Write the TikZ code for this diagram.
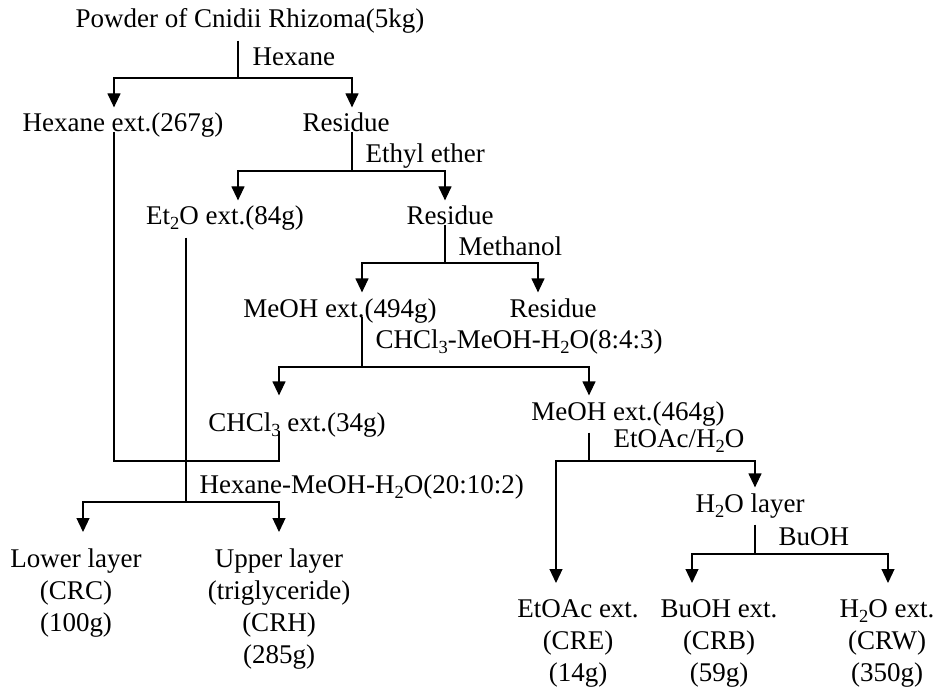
\documentclass[tikz,border=0pt]{standalone}
\usepackage{fontspec}
\setmainfont{Liberation Serif}
\usetikzlibrary{arrows.meta}
\newcommand{\chemsub}[1]{\raisebox{-5pt}{\fontsize{18.5}{18.5}\selectfont #1}}

\begin{document}
\begin{tikzpicture}[
            x = 1pt, y = -1pt, % pixel grid, y going down
            > = {Triangle[width=13pt, length=14pt]}, % arrow head style
            line width = 1.2pt,
            every node/.style = {font=\fontsize{27}{32}\selectfont},
            item/.style = {anchor=base, inner xsep=0pt, inner ysep=6pt, text height=18pt, text depth=6pt},
            faritem/.style = {item, inner ysep=17pt},
            leaf/.style = {anchor=north, align=center, inner xsep=0pt, inner ysep=16.5pt},
            solvent/.style = {anchor=base west, inner sep=0pt}
        ]

        \useasboundingbox (0,0) rectangle (938,690);

        % fractions
        \node[item] (powder) at (250,28) {Powder of Cnidii Rhizoma(5kg)};
        \node[item] (hexext) at (123,132) {Hexane ext.(267g)};
        \node[item] (res1) at (346,132) {Residue};
        \node[item] (et2oext) at (225,225) {Et\chemsub{2}O ext.(84g)};
        \node[item] (res2) at (450,225) {Residue};
        \node[item] (meohext) at (340,317) {MeOH ext.(494g)};
        \node[item] (res3) at (553,317) {Residue};
        \node[faritem] (chclext) at (297,431) {CHCl\chemsub{3} ext.(34g)};
        \node[item] (meohext2) at (628,420) {MeOH ext.(464g)};
        \node[item] (h2olayer) at (750,512) {H\chemsub{2}O layer};
        \node[leaf] (lower) at (76,532) {Lower layer \\ (CRC) \\ (100g)};
        \node[leaf] (upper) at (279,532) {Upper layer \\ (triglyceride) \\ (CRH) \\ (285g)};
        \node[leaf] (etoacext) at (578,583) {EtOAc ext. \\ (CRE) \\ (14g)};
        \node[leaf] (buohext) at (719,583) {BuOH ext. \\ (CRB) \\ (59g)};
        \node[leaf] (h2oext) at (887,583) {H\chemsub{2}O ext. \\ (CRW) \\ (350g)};

        % solvents
        \node[solvent] (hexane) at (252,66) {Hexane};
        \node[solvent] (ether) at (365,163) {Ethyl ether};
        \node[solvent] (methanol) at (458,255) {Methanol};
        \node[solvent] (chcl) at (375,348) {CHCl\chemsub{3}-MeOH-H\chemsub{2}O(8:4:3)};
        \node[solvent] (etoac) at (613,447) {EtOAc/H\chemsub{2}O};
        \node[solvent] (hexmix) at (199,493) {Hexane-MeOH-H\chemsub{2}O(20:10:2)};
        \node[solvent] (buoh) at (778,545) {BuOH};

        % split points
        \coordinate (s1) at (238,78);
        \coordinate (s2) at (352,171);
        \coordinate (s3) at (445,263);
        \coordinate (s4) at (362,367);
        \coordinate (s5) at (589,461);
        \coordinate (s6) at (755,554);
        \coordinate (s7) at (186,502);
        \coordinate (c1) at (279,461);

        \draw (powder.south -| s1) -- (s1);
        \draw[->] (s1) -| ([xshift=-9pt]hexext.north);
        \draw[->] (s1) -| ([xshift=6pt]res1.north);

        \draw (res1.base -| s2) -- (s2);
        \draw[->] (s2) -| ([xshift=13pt]et2oext.north);
        \draw[->] (s2) -| ([xshift=-5pt]res2.north);

        \draw (res2.base -| s3) -- (s3);
        \draw[->] (s3) -| ([xshift=22pt]meohext.north);
        \draw[->] (s3) -| ([xshift=-15pt]res3.north);

        \draw (meohext.base -| s4) -- (s4);
        \draw[->] (s4) -| ([xshift=-18pt]chclext.north);
        \draw[->] (s4) -| ([xshift=-39pt]meohext2.north);

        \draw (meohext2.south -| s5) -- (s5);
        \draw[->] (s5) -| ([xshift=-22pt]etoacext.north);
        \draw[->] (s5) -| ([xshift=5pt]h2olayer.north);

        \draw (h2olayer.south -| s6) -- (s6);
        \draw[->] (s6) -| ([xshift=-27pt]buohext.north);
        \draw[->] (s6) -| ([xshift=1pt]h2oext.north);

        % pooled fractions
        \draw ([xshift=-9pt]hexext.base) |- (c1) -- (chclext.base -| c1);
        \draw (et2oext.south -| s7) -- (s7);
        \draw[->] (s7) -| ([xshift=7pt]lower.north);
        \draw[->] (s7) -| (upper.north);

\end{tikzpicture}
\end{document}
